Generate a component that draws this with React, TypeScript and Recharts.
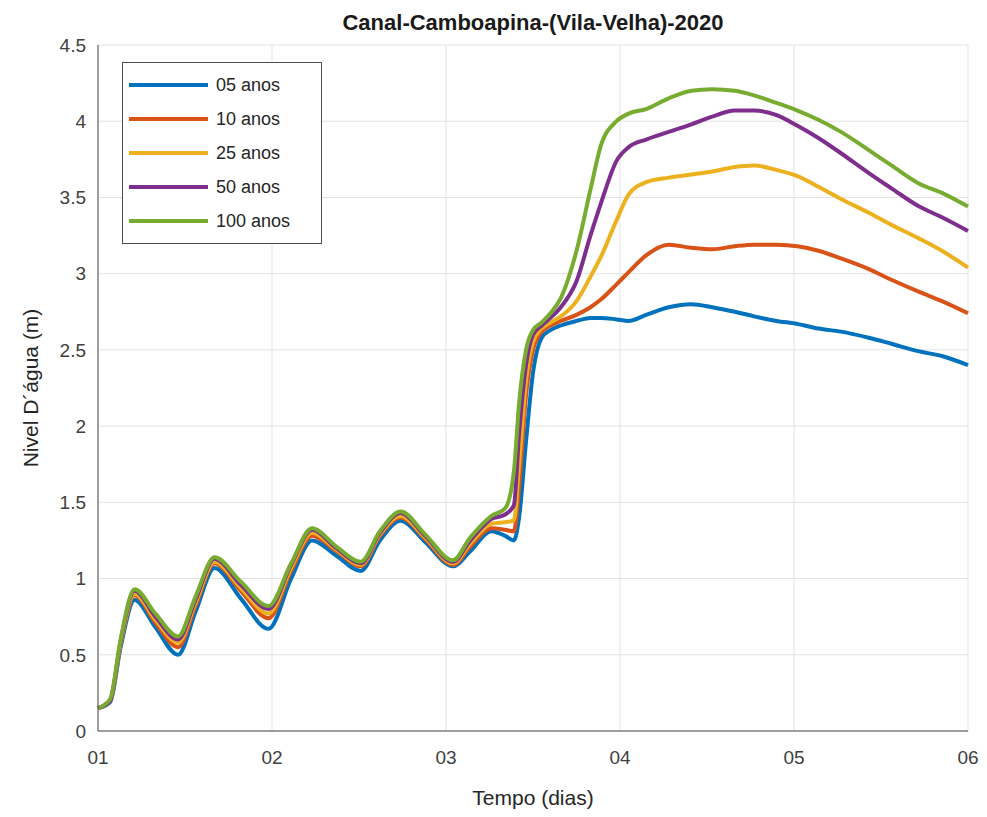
import { CartesianGrid, Legend, Line, LineChart, XAxis, YAxis } from "recharts";

// tempo em dias (01..06)
const tempo = [
  1.0, 1.07, 1.13, 1.21, 1.33, 1.46, 1.56, 1.67, 1.82, 1.98, 2.11, 2.23, 2.37, 2.51, 2.62, 2.74,
  2.88, 3.04, 3.14, 3.26, 3.34, 3.39, 3.42, 3.46, 3.5, 3.55, 3.6, 3.66, 3.75, 3.83, 3.89, 3.98,
  4.05, 4.15, 4.28, 4.41, 4.53, 4.66, 4.77, 4.9, 5.02, 5.14, 5.27, 5.43, 5.56, 5.72, 5.85, 6.0
];

const anos05 = [
  0.15, 0.19, 0.55, 0.86, 0.68, 0.5, 0.78, 1.07, 0.87, 0.67, 1.0, 1.25, 1.15, 1.05, 1.25, 1.38,
  1.24, 1.08, 1.18, 1.31, 1.28, 1.25, 1.4, 1.9, 2.35, 2.58, 2.63, 2.66, 2.69, 2.71, 2.71, 2.7,
  2.69, 2.73, 2.78, 2.8, 2.78, 2.75, 2.72, 2.69, 2.67, 2.64, 2.62, 2.58, 2.54, 2.49, 2.46, 2.4
];
const anos10 = [
  0.15, 0.2, 0.57, 0.89, 0.71, 0.55, 0.82, 1.1, 0.92, 0.74, 1.05, 1.28, 1.18, 1.08, 1.28, 1.4,
  1.26, 1.09, 1.21, 1.33, 1.32, 1.31, 1.6, 2.2, 2.5, 2.62, 2.66, 2.69, 2.73, 2.78, 2.83, 2.93,
  3.01, 3.12, 3.19, 3.17, 3.16, 3.18, 3.19, 3.19, 3.18, 3.15, 3.1, 3.03, 2.96, 2.88, 2.82, 2.74
];
const anos25 = [
  0.15, 0.2, 0.58, 0.9, 0.73, 0.58, 0.84, 1.11, 0.94, 0.77, 1.07, 1.3, 1.19, 1.09, 1.29, 1.41,
  1.27, 1.1, 1.23, 1.36, 1.37, 1.38, 1.75, 2.3, 2.55, 2.64, 2.68, 2.72, 2.82, 2.98, 3.11, 3.35,
  3.52, 3.6, 3.63, 3.65, 3.67, 3.7, 3.71, 3.68, 3.64, 3.57, 3.49, 3.4, 3.32, 3.23, 3.15, 3.04
];
const anos50 = [
  0.15, 0.2, 0.59, 0.92, 0.75, 0.6, 0.86, 1.13, 0.96, 0.8, 1.09, 1.32, 1.2, 1.1, 1.3, 1.43,
  1.28, 1.11, 1.25, 1.39, 1.42, 1.48, 1.95, 2.4, 2.6, 2.66, 2.71, 2.78, 2.95, 3.25, 3.46, 3.74,
  3.83, 3.88, 3.93, 3.98, 4.03, 4.07, 4.07, 4.04, 3.97, 3.89, 3.79, 3.66, 3.56, 3.44, 3.37, 3.28
];
const anos100 = [
  0.15, 0.21, 0.6, 0.93, 0.77, 0.62, 0.88, 1.14, 0.98, 0.82, 1.1, 1.33, 1.21, 1.11, 1.31, 1.44,
  1.29, 1.12, 1.27, 1.41, 1.46, 1.7, 2.15, 2.5, 2.63, 2.68, 2.74, 2.84, 3.15, 3.55, 3.84, 4.0,
  4.05, 4.08, 4.15, 4.2, 4.21, 4.2, 4.17, 4.12, 4.07, 4.01, 3.93, 3.81, 3.71, 3.59, 3.53, 3.44
];

const xTicks = [1, 2, 3, 4, 5, 6];
const yTicks = [0, 0.5, 1, 1.5, 2, 2.5, 3, 3.5, 4, 4.5];

const series = [
  { key: "a05", name: "05 anos", color: "#0072BD" },
  { key: "a10", name: "10 anos", color: "#D95319" },
  { key: "a25", name: "25 anos", color: "#EDB120" },
  { key: "a50", name: "50 anos", color: "#7E2F8E" },
  { key: "a100", name: "100 anos", color: "#77AC30" }
];

const data = tempo.map((t, i) => ({
  t,
  a05: anos05[i],
  a10: anos10[i],
  a25: anos25[i],
  a50: anos50[i],
  a100: anos100[i]
}));

const font = "'Liberation Sans', Arial, Helvetica, sans-serif";
const axisColor = "#4d4d4d";
const tickStyle = { fontSize: 19, fill: "#404040", fontFamily: font };

function LegendBox() {
  return (
    <div
      style={{
        border: `1px solid ${axisColor}`,
        background: "#fff",
        width: 198,
        padding: "5px 0",
        fontFamily: font,
        fontSize: 18,
        color: "#262626"
      }}
    >
      {series.map((s) => (
        <div key={s.key} style={{ display: "flex", alignItems: "center", height: 34 }}>
          <div style={{ width: 79, height: 4, background: s.color, marginLeft: 6, marginRight: 8 }} />
          <span>{s.name}</span>
        </div>
      ))}
    </div>
  );
}

export default function App() {
  return (
    <div style={{ position: "relative", width: 971, height: 801 }}>
      <div
        style={{
          position: "absolute",
          left: 90,
          width: 870,
          top: 2,
          textAlign: "center",
          fontFamily: font,
          fontWeight: "bold",
          fontSize: 22,
          lineHeight: "25px",
          color: "#1a1a1a"
        }}
      >
        Canal-Camboapina-(Vila-Velha)-2020
      </div>
      <LineChart width={971} height={801} data={data} margin={{ top: 37, right: 11, bottom: 28, left: 30 }}>
        <CartesianGrid stroke="#e3e3e3" strokeWidth={1} />
        <XAxis
          dataKey="t"
          type="number"
          domain={[1, 6]}
          ticks={xTicks}
          tickFormatter={(v: number) => String(v).padStart(2, "0")}
          tickLine={false}
          tickSize={0}
          tickMargin={20}
          height={50}
          stroke={axisColor}
          tick={tickStyle}
          label={{
            content: (p: any) => (
              <text
                x={p.viewBox.x + p.viewBox.width / 2}
                y={p.viewBox.y + 74}
                textAnchor="middle"
                fontSize={21}
                fontFamily={font}
                fill="#262626"
              >
                Tempo (dias)
              </text>
            )
          }}
        />
        <XAxis xAxisId="top" orientation="top" dataKey="t" type="number" domain={[1, 6]} ticks={xTicks} tick={false} tickLine={false} height={0} stroke={axisColor} />
        <YAxis
          domain={[0, 4.5]}
          ticks={yTicks}
          tickLine={false}
          tickSize={0}
          tickMargin={12}
          width={60}
          stroke={axisColor}
          tick={tickStyle}
          label={{
            content: (p: any) => {
              const cx = p.viewBox.x - 8;
              const cy = p.viewBox.y + p.viewBox.height / 2;
              return (
                <text
                  x={cx}
                  y={cy}
                  transform={`rotate(-90 ${cx} ${cy})`}
                  textAnchor="middle"
                  dominantBaseline="central"
                  fontSize={21}
                  fontFamily={font}
                  fill="#262626"
                >
                  Nivel D´água (m)
                </text>
              );
            }
          }}
        />
        <YAxis yAxisId="right" orientation="right" domain={[0, 4.5]} ticks={yTicks} tick={false} tickLine={false} width={0} stroke={axisColor} />
        <Legend
          layout="horizontal"
          verticalAlign="middle"
          align="center"
          content={() => <LegendBox />}
          wrapperStyle={{ position: "absolute", left: 114, top: 54, width: "auto", height: "auto" }}
        />
        {series.map((s) => (
          <Line
            key={s.key}
            dataKey={s.key}
            name={s.name}
            type="monotone"
            stroke={s.color}
            strokeWidth={4}
            dot={false}
            isAnimationActive={false}
          />
        ))}
      </LineChart>
    </div>
  );
}
